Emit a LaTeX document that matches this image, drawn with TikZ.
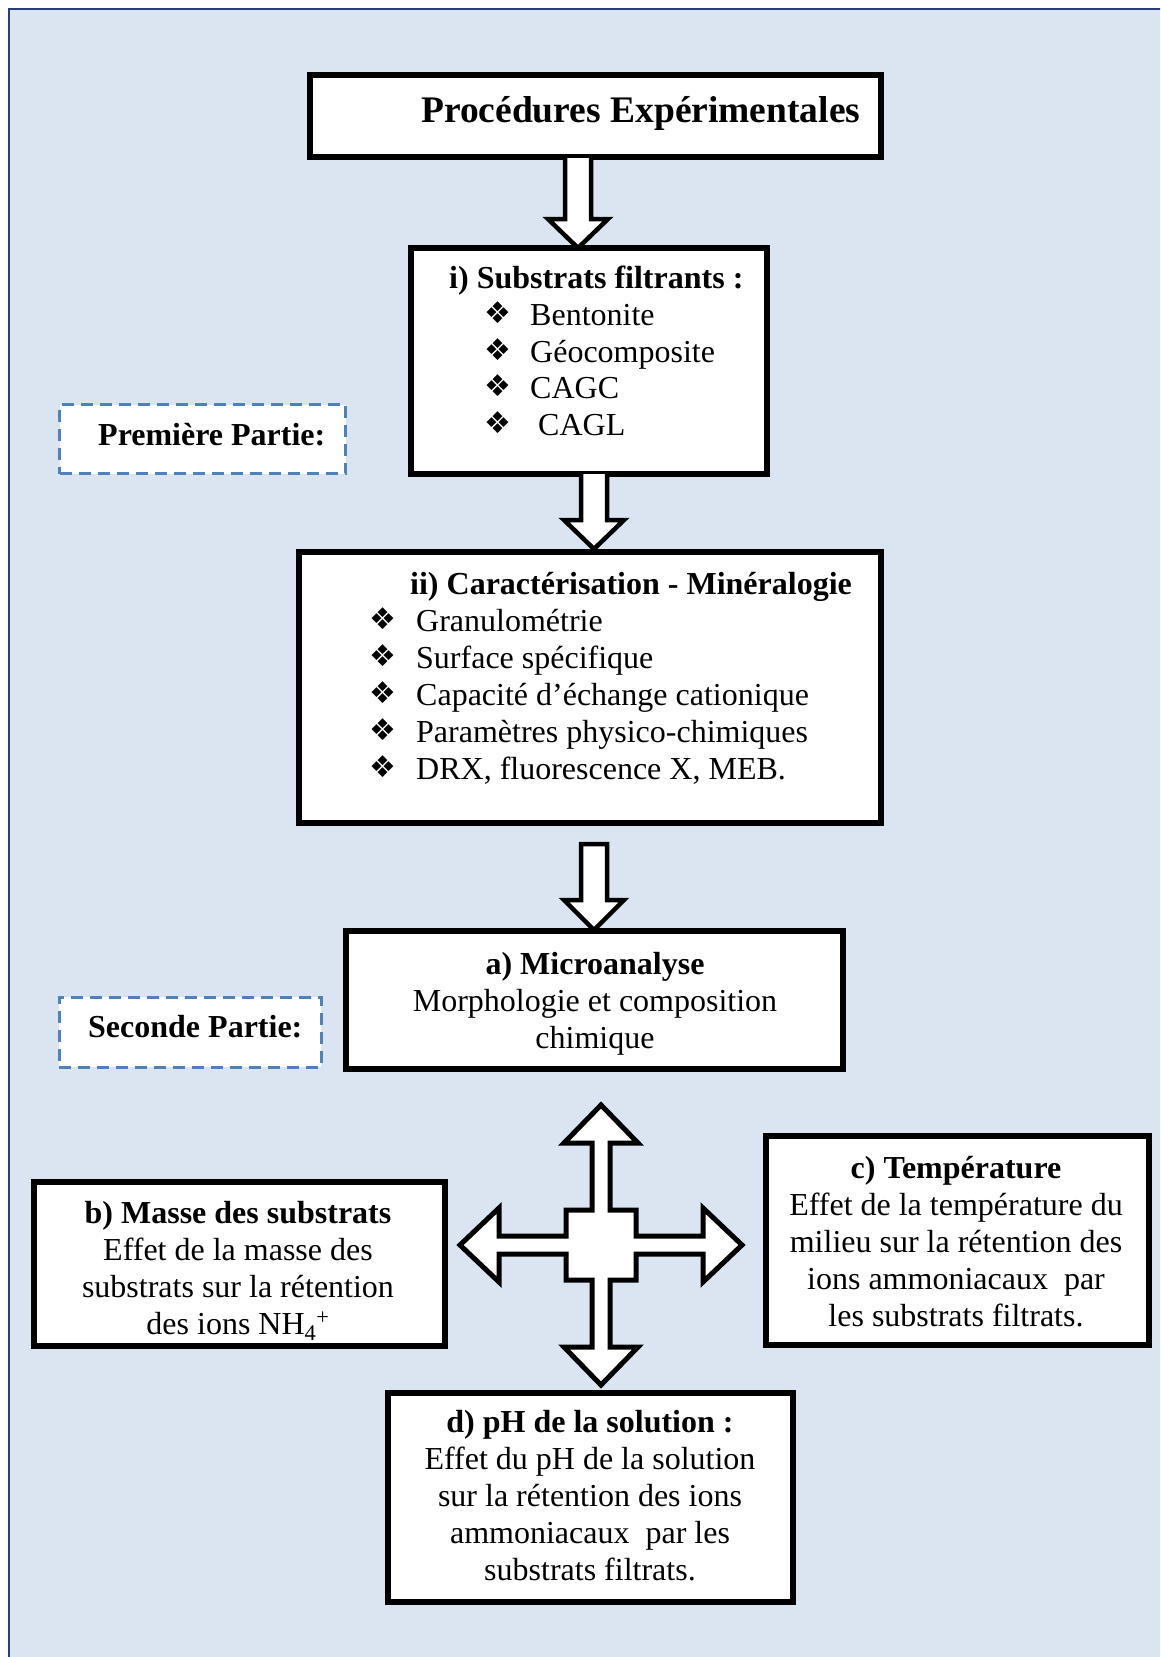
\documentclass[tikz,border=0pt]{standalone}
\usepackage{fontspec}
\setmainfont{Liberation Serif}
\newfontfamily\symfont{DejaVu Sans}
\definecolor{bgblue}{HTML}{DBE5F1}
\definecolor{frameblue}{HTML}{243F7A}
\definecolor{dashblue}{HTML}{4F81BD}
\newcommand{\mybul}{\raisebox{1.5pt}{\symfont\fontsize{30}{30}\selectfont ❖}}
\newcommand{\myblockarrow}[4]{% x, top, headbase, tip
  \draw[blockarr] (#1-13,#2) -- (#1-13,#3) -- (#1-30,#3) -- (#1,#4) -- (#1+30,#3) -- (#1+13,#3) -- (#1+13,#2);
}
\begin{document}
\begin{tikzpicture}[x=1pt,y=-1pt,
  box/.style={draw=black, line width=6pt, fill=white, rectangle, inner sep=0pt},
  dashbox/.style={draw=dashblue, line width=3pt, dash pattern=on 12pt off 7pt, fill=white, rectangle, inner sep=0pt},
  body/.style={inner sep=0pt, font=\fontsize{32}{37}\selectfont},
  bold/.style={inner sep=0pt, font=\fontsize{32}{37}\selectfont\bfseries},
  ctr/.style={anchor=base},
  lft/.style={anchor=base west},
  blockarr/.style={draw=black, line width=4.5pt, fill=white, line join=miter}
]
\useasboundingbox (0,0) rectangle (1160,1657);
\clip (0,0) rectangle (1160,1657);
\fill[white] (0,0) rectangle (1160,1657);
\draw[fill=bgblue, draw=frameblue, line width=2pt] (9,9) rectangle (1200,1700);

% boxes
\node[box, minimum width=571pt, minimum height=82pt] (title) at (595.5,116) {};
\node[box, minimum width=356pt, minimum height=226pt] (sub) at (589,361) {};
\node[box, minimum width=582pt, minimum height=271pt] (car) at (590,687.5) {};
\node[box, minimum width=497pt, minimum height=138pt] (micro) at (594.5,1000) {};
\node[box, minimum width=411pt, minimum height=164pt] (masse) at (239.5,1264) {};
\node[box, minimum width=383pt, minimum height=209pt] (temp) at (957.5,1240) {};
\node[box, minimum width=405pt, minimum height=209pt] (ph) at (590.5,1497) {};
\node[dashbox, minimum width=286pt, minimum height=69pt] (p1) at (202.5,439) {};
\node[dashbox, minimum width=262pt, minimum height=70pt] (p2) at (190,1032) {};

% block arrows
\myblockarrow{578}{158}{219}{248}
\myblockarrow{594}{474}{520}{549}
\draw[blockarr] (594-13,844) -- (594-13,900) -- (594-30,900) -- (594,930) -- (594+30,900) -- (594+13,900) -- (594+13,844) -- cycle;

% cross
\begin{scope}[shift={(601,1245)}]
\draw[blockarr, line width=5pt] (0,-140) -- (37,-102) -- (9,-102) -- (9,-35) -- (35,-35) -- (35,-9) -- (102,-9) -- (102,-37) -- (141,0) -- (102,37) -- (102,9) -- (35,9) -- (35,35) -- (9,35) -- (9,102) -- (37,102) -- (0,140) -- (-37,102) -- (-9,102) -- (-9,35) -- (-35,35) -- (-35,9) -- (-102,9) -- (-102,37) -- (-141,0) -- (-102,-37) -- (-102,-9) -- (-35,-9) -- (-35,-35) -- (-9,-35) -- (-9,-102) -- (-37,-102) -- cycle;
\end{scope}

% title
\node[inner sep=0pt, lft, font=\fontsize{37.5}{42}\selectfont\bfseries] (tt) at (421,122) {Procédures Expérimentales};

% substrats
\node[bold, lft] (s0) at (449,288) {i) Substrats filtrants :};
\node[body, lft] (sb1) at (484,325) {\mybul};
\node[body, lft] (sb2) at (484,362) {\mybul};
\node[body, lft] (sb3) at (484,398) {\mybul};
\node[body, lft] (sb4) at (484,435) {\mybul};
\node[body, lft] (s1) at (530,325) {Bentonite};
\node[body, lft] (s2) at (530,362) {Géocomposite};
\node[body, lft] (s3) at (530,398) {CAGC};
\node[body, lft] (s4) at (538,435) {CAGL};

% premiere / seconde
\node[bold, lft] (p1t) at (98,445) {Première Partie:};
\node[bold, lft] (p2t) at (88,1037) {Seconde Partie:};

% caracterisation
\node[bold, lft] (c0) at (410,594) {ii) Caractérisation - Minéralogie};
\node[body, lft] (cb1) at (369,631) {\mybul};
\node[body, lft] (cb2) at (369,668) {\mybul};
\node[body, lft] (cb3) at (369,705) {\mybul};
\node[body, lft] (cb4) at (369,742) {\mybul};
\node[body, lft] (cb5) at (369,779) {\mybul};
\node[body, lft] (c1) at (416,631) {Granulométrie};
\node[body, lft] (c2) at (416,668) {Surface spécifique};
\node[body, lft] (c3) at (416,705) {Capacité d’échange cationique};
\node[body, lft] (c4) at (416,742) {Paramètres physico-chimiques};
\node[body, lft] (c5) at (416,779) {DRX, fluorescence X, MEB.};

% microanalyse
\node[bold, ctr] (m0) at (595,974) {a) Microanalyse};
\node[body, ctr] (m1) at (595,1011) {Morphologie et composition};
\node[body, ctr] (m2) at (595,1048) {chimique};

% masse
\node[bold, ctr] (ma0) at (238,1223) {b) Masse des substrats};
\node[body, ctr] (ma1) at (238,1260) {Effet de la masse des};
\node[body, ctr] (ma2) at (238,1297) {substrats sur la rétention};
\node[body, ctr] (ma3) at (238,1334) {des ions NH\textsubscript{4}\textsuperscript{+}};

% temperature
\node[bold, ctr] (t0) at (956,1178) {c) Température};
\node[body, ctr] (t1) at (956,1215) {Effet de la température du};
\node[body, ctr] (t2) at (956,1252) {milieu sur la rétention des};
\node[body, ctr] (t3) at (956,1289) {ions ammoniacaux\ \ par};
\node[body, ctr] (t4) at (956,1326) {les substrats filtrats.};

% pH
\node[bold, ctr] (h0) at (590,1432) {d) pH de la solution :};
\node[body, ctr] (h1) at (590,1469) {Effet du pH de la solution};
\node[body, ctr] (h2) at (590,1506) {sur la rétention des ions};
\node[body, ctr] (h3) at (590,1543) {ammoniacaux\ \ par les};
\node[body, ctr] (h4) at (590,1580) {substrats filtrats.};
\end{tikzpicture}
\end{document}
